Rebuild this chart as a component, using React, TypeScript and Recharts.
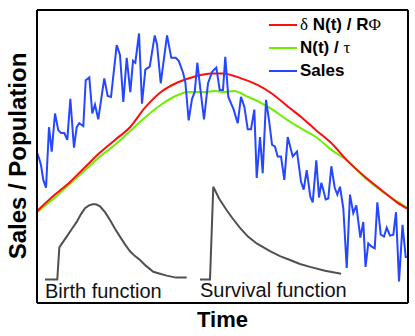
import { Customized, Legend, Line, LineChart, XAxis, YAxis } from "recharts";

// time axis runs 0..6, the y axis 0..3 (ticks have no labels)
const timeTicks = [1, 2, 3, 4, 5];
const valueTicks = [0.4, 1.4, 2.4];

const salesTime = [
    0, 0.03, 0.065, 0.102, 0.146, 0.194, 0.238, 0.291, 0.344, 0.388, 0.442, 0.49, 0.539, 0.598, 0.642,
    0.684, 0.749, 0.788, 0.846, 0.894, 0.938, 0.991, 1.088, 1.143, 1.197, 1.289, 1.342, 1.396, 1.451,
    1.509, 1.553, 1.59, 1.65, 1.698, 1.752, 1.823, 1.904, 1.941, 2.001, 2.103, 2.172, 2.243, 2.292,
    2.361, 2.399, 2.453, 2.507, 2.551, 2.593, 2.648, 2.701, 2.766, 2.835, 2.9, 2.955, 3.008, 3.045,
    3.094, 3.181, 3.246, 3.299, 3.353, 3.408, 3.461, 3.515, 3.553, 3.607, 3.65, 3.704, 3.757, 3.801,
    3.849, 3.893, 3.946, 4.0, 4.055, 4.136, 4.205, 4.27, 4.313, 4.362, 4.42, 4.459, 4.517, 4.561,
    4.598, 4.63, 4.669, 4.711, 4.76, 4.815, 4.857, 4.9, 4.954, 5.009, 5.062, 5.115, 5.164, 5.229,
    5.277, 5.313, 5.358, 5.407, 5.462, 5.504, 5.559, 5.612, 5.656, 5.709, 5.763, 5.806, 5.855, 5.911,
    5.963, 6.0,
];
const salesValue = [
    1.54, 1.49, 1.41, 1.26, 1.18, 1.8, 1.55, 1.94, 1.77, 1.74, 1.74, 1.67, 2.09, 1.59, 1.8,
    1.84, 1.81, 2.28, 2.31, 1.94, 2.03, 1.88, 2.3, 2.12, 2.11, 2.64, 2.54, 2.06, 2.51,
    2.16, 2.48, 2.46, 2.76, 2.04, 2.39, 2.42, 2.74, 2.65, 2.25, 2.74, 2.51, 2.51, 2.48,
    2.36, 2.26, 1.87, 2.09, 2.16, 2.46, 2.16, 1.88, 2.25, 2.37, 2.41, 2.18, 2.18, 2.52,
    2.11, 1.98, 1.84, 2.11, 2.01, 1.78, 1.78, 1.98, 1.28, 1.7, 1.33, 2.08, 1.85, 1.62,
    1.6, 1.5, 1.5, 1.26, 1.7, 1.5, 1.55, 1.24, 1.16, 1.36, 1.09, 1.03, 1.46, 1.08,
    1.23, 1.16, 1.06, 1.07, 1.4, 1.18, 1.11, 1.19, 0.97, 0.36, 1.11, 0.92, 1.0, 0.67,
    0.83, 0.37, 0.61, 0.58, 0.56, 1.03, 0.7, 0.68, 0.77, 0.69, 0.7, 0.93, 0.22, 0.8,
    0.47, 0.47,
];

const rateTime = [
    0, 0.291, 0.534, 0.776, 1.019, 1.261, 1.504, 1.747, 2.005, 2.28, 2.555, 2.814, 3.008, 3.299,
    3.574, 3.785, 4.06, 4.318, 4.512, 4.755, 5.014, 5.289, 5.564, 5.823, 6.0,
];
const rateValue = [
    0.94, 1.11, 1.24, 1.39, 1.54, 1.67, 1.8, 2.0, 2.16, 2.26, 2.32, 2.35, 2.35, 2.3,
    2.23, 2.15, 2.01, 1.88, 1.77, 1.64, 1.46, 1.3, 1.16, 1.03, 0.96,
];

const stockTime = [
    0, 0.291, 0.534, 0.776, 1.019, 1.261, 1.472, 1.747, 2.005, 2.28, 2.442, 2.717, 2.879, 3.008,
    3.186, 3.413, 3.623, 3.785, 4.06, 4.318, 4.512, 4.755, 5.014, 5.289, 5.564, 5.823, 6.0,
];
const stockValue = [
    0.93, 1.08, 1.22, 1.36, 1.5, 1.62, 1.74, 1.9, 2.03, 2.13, 2.16, 2.16, 2.17, 2.16,
    2.17, 2.11, 2.05, 1.99, 1.87, 1.77, 1.7, 1.57, 1.46, 1.29, 1.15, 1.04, 0.97,
];

const birthTime = [
    0.129, 0.328, 0.361, 0.48, 0.566, 0.642, 0.712, 0.776, 0.841, 0.901, 0.954, 1.019, 1.1,
    1.181, 1.261, 1.342, 1.423, 1.504, 1.585, 1.666, 1.763, 1.881, 1.989, 2.098, 2.248, 2.421,
];
const birthValue = [
    0.24, 0.24, 0.57, 0.68, 0.76, 0.83, 0.91, 0.97, 1.0, 1.01, 1.01, 0.99, 0.93,
    0.85, 0.76, 0.68, 0.6, 0.53, 0.48, 0.44, 0.38, 0.32, 0.3, 0.28, 0.26, 0.26,
];

const survivalTime = [
    2.636, 2.798, 2.851, 2.944, 3.068, 3.17, 3.283, 3.412, 3.553, 3.768, 3.93, 4.092, 4.253,
    4.415, 4.658, 4.917,
];
const survivalValue = [
    0.24, 0.24, 1.19, 1.07, 0.95, 0.86, 0.77, 0.68, 0.61, 0.53, 0.48, 0.44, 0.4,
    0.37, 0.33, 0.3,
];

const RED = "#ff0d0d";
const GREEN = "#6cf000";
const BLUE = "#2447ff";
const GRAY = "#505050";
const SANS = "'Liberation Sans', Arial, sans-serif";
const SERIF = "'Liberation Serif', 'Times New Roman', serif";

function zip(ts: number[], vs: number[]) {
    return ts.map((t, i) => ({ t, v: vs[i] }));
}

const symbol = { fontFamily: SERIF, fontWeight: "normal" as const };

const legendRows = [
    {
        color: RED,
        label: (
            <>
                <span style={symbol}>δ</span> N(t) / R<span style={symbol}>Φ</span>
            </>
        ),
    },
    {
        color: GREEN,
        label: (
            <>
                N(t) / <span style={symbol}>τ</span>
            </>
        ),
    },
    { color: BLUE, label: <>Sales</> },
];

function LegendBox() {
    return (
        <div style={{ fontFamily: SANS, fontWeight: "bold", fontSize: 17, color: "#000" }}>
            {legendRows.map((r, i) => (
                <div key={i} style={{ display: "flex", alignItems: "center", height: 23, whiteSpace: "nowrap" }}>
                    <span style={{ display: "inline-block", width: 28, height: 2, background: r.color, marginRight: 3 }} />
                    <span>{r.label}</span>
                </div>
            ))}
        </div>
    );
}

function TextLayer() {
    return (
        <g fontFamily={SANS}>
            <text x={45} y={298} fontSize={20} fill="#111">
                Birth function
            </text>
            <text x={200} y={297} fontSize={20} fill="#111">
                Survival function
            </text>
            <text x={222.5} y={327} fontSize={22} fontWeight="bold" textAnchor="middle" fill="#000">
                Time
            </text>
            <text
                x={26}
                y={156}
                fontSize={24}
                fontWeight="bold"
                textAnchor="middle"
                fill="#000"
                transform="rotate(-90 26 156)"
            >
                Sales / Population
            </text>
        </g>
    );
}

// box axes: 1px thick so they get drawn, ticks pointing inwards
const frame = { stroke: "#000", strokeWidth: 2 };
const tickStroke = { stroke: "#000", strokeWidth: 1.5 };

export default function App() {
    const common = {
        xAxisId: "b",
        yAxisId: "l",
        dataKey: "v",
        dot: false,
        activeDot: false,
        isAnimationActive: false,
        strokeWidth: 2,
    } as const;

    return (
        <div style={{ position: "absolute", left: 0, top: 0, width: 415, height: 336, background: "#fff" }}>
            <LineChart width={415} height={336} margin={{ top: 9, right: 6, bottom: 32, left: 36 }}>
                <XAxis
                    xAxisId="b"
                    type="number"
                    dataKey="t"
                    domain={[0, 6]}
                    ticks={timeTicks}
                    orientation="bottom"
                    height={1}
                    tick={false}
                    tickSize={-5}
                    axisLine={frame}
                    tickLine={tickStroke}
                    allowDataOverflow
                />
                <XAxis
                    xAxisId="t"
                    type="number"
                    dataKey="t"
                    domain={[0, 6]}
                    ticks={timeTicks}
                    orientation="top"
                    height={1}
                    tick={false}
                    tickSize={-5}
                    axisLine={frame}
                    tickLine={tickStroke}
                    allowDataOverflow
                />
                <YAxis
                    yAxisId="l"
                    type="number"
                    domain={[0, 3]}
                    ticks={valueTicks}
                    orientation="left"
                    width={1}
                    tick={false}
                    tickSize={-5}
                    axisLine={frame}
                    tickLine={tickStroke}
                    allowDataOverflow
                />
                <YAxis
                    yAxisId="r"
                    type="number"
                    domain={[0, 3]}
                    ticks={valueTicks}
                    orientation="right"
                    width={1}
                    tick={false}
                    tickSize={-5}
                    axisLine={frame}
                    tickLine={tickStroke}
                    allowDataOverflow
                />
                <Line {...common} data={zip(birthTime, birthValue)} stroke={GRAY} type="linear" />
                <Line {...common} data={zip(survivalTime, survivalValue)} stroke={GRAY} type="linear" />
                <Line {...common} data={zip(stockTime, stockValue)} stroke={GREEN} type="monotone" />
                <Line {...common} data={zip(rateTime, rateValue)} stroke={RED} type="monotone" />
                <Line {...common} data={zip(salesTime, salesValue)} stroke={BLUE} type="linear" />
                <Legend
                    layout="horizontal"
                    verticalAlign="middle"
                    align="center"
                    content={<LegendBox />}
                    wrapperStyle={{ position: "absolute", top: 13.5, left: 269, width: 146, height: 70 }}
                />
                <Customized component={TextLayer} />
            </LineChart>
        </div>
    );
}
